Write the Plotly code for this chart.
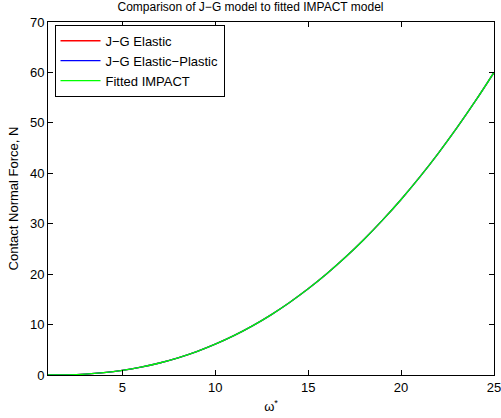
import plotly.graph_objects as go

omega = list(range(1, 26))
force_elastic = [0.0, 0.04, 0.18, 0.47, 0.92, 1.55, 2.38, 3.40, 4.64, 6.11, 7.80, 9.74,
                 11.93, 14.38, 17.09, 20.07, 23.33, 26.87, 30.70, 34.81, 39.23, 43.96,
                 48.99, 54.34, 60.0]
force_elastic_plastic = [0.0, 0.04, 0.18, 0.47, 0.92, 1.55, 2.38, 3.40, 4.64, 6.11, 7.80, 9.74,
                         11.93, 14.38, 17.09, 20.07, 23.33, 26.87, 30.70, 34.81, 39.23, 43.96,
                         48.99, 54.34, 60.0]
force_impact = [0.0, 0.04, 0.18, 0.47, 0.92, 1.55, 2.38, 3.40, 4.64, 6.11, 7.80, 9.74,
                11.93, 14.38, 17.09, 20.07, 23.33, 26.87, 30.70, 34.81, 39.23, 43.96,
                48.99, 54.34, 60.0]
x_ticks = [5, 10, 15, 20, 25]
y_ticks = [0, 10, 20, 30, 40, 50, 60, 70]

FONT = "Liberation Sans, Arial, sans-serif"

fig = go.Figure()
fig.add_trace(go.Scatter(x=omega, y=force_elastic, mode="lines", name="J\u2212G Elastic",
                         line=dict(color="#ff0000", width=1.3, shape="spline")))
fig.add_trace(go.Scatter(x=omega, y=force_elastic_plastic, mode="lines", name="J\u2212G Elastic\u2212Plastic",
                         line=dict(color="#0000ff", width=1.3, shape="spline")))
fig.add_trace(go.Scatter(x=omega, y=force_impact, mode="lines", name="Fitted IMPACT",
                         line=dict(color="#00ff00", width=1.3, shape="spline")))

axis_common = dict(showline=True, linecolor="black", linewidth=1, mirror="ticks",
                   ticks="inside", ticklen=5, tickcolor="black", showgrid=False,
                   zeroline=False, automargin=False, ticklabeloverflow="allow",
                   tickfont=dict(family=FONT, size=13, color="black"))

fig.update_layout(
    width=501, height=418,
    margin=dict(l=48, r=7, t=22, b=43, autoexpand=False),
    paper_bgcolor="white", plot_bgcolor="white",
    font=dict(family=FONT, size=13, color="black"),
    title=dict(text="Comparison of J\u2212G model to fitted IMPACT model",
               x=0.5, xanchor="center", y=0.995, yanchor="top",
               font=dict(family=FONT, size=12, color="black")),
    xaxis=dict(range=[1, 25], tickvals=x_ticks, ticktext=[str(v) for v in x_ticks],
               title=dict(text="\u03c9<sup>*</sup>", standoff=8,
                          font=dict(family=FONT, size=13)), **axis_common),
    yaxis=dict(range=[0, 70], tickvals=y_ticks, ticktext=[str(v) for v in y_ticks],
               title=dict(text="Contact Normal Force, N", standoff=8,
                          font=dict(family=FONT, size=13)), **axis_common),
    legend=dict(x=0.0146, y=0.992, xanchor="left", yanchor="top",
                bgcolor="white", bordercolor="black", borderwidth=1,
                font=dict(family=FONT, size=13, color="black"),
                tracegroupgap=0, itemwidth=40),
    showlegend=True,
)

fig.write_html("out.html", config={"displayModeBar": False},
               post_script="document.body.style.margin='0';")
